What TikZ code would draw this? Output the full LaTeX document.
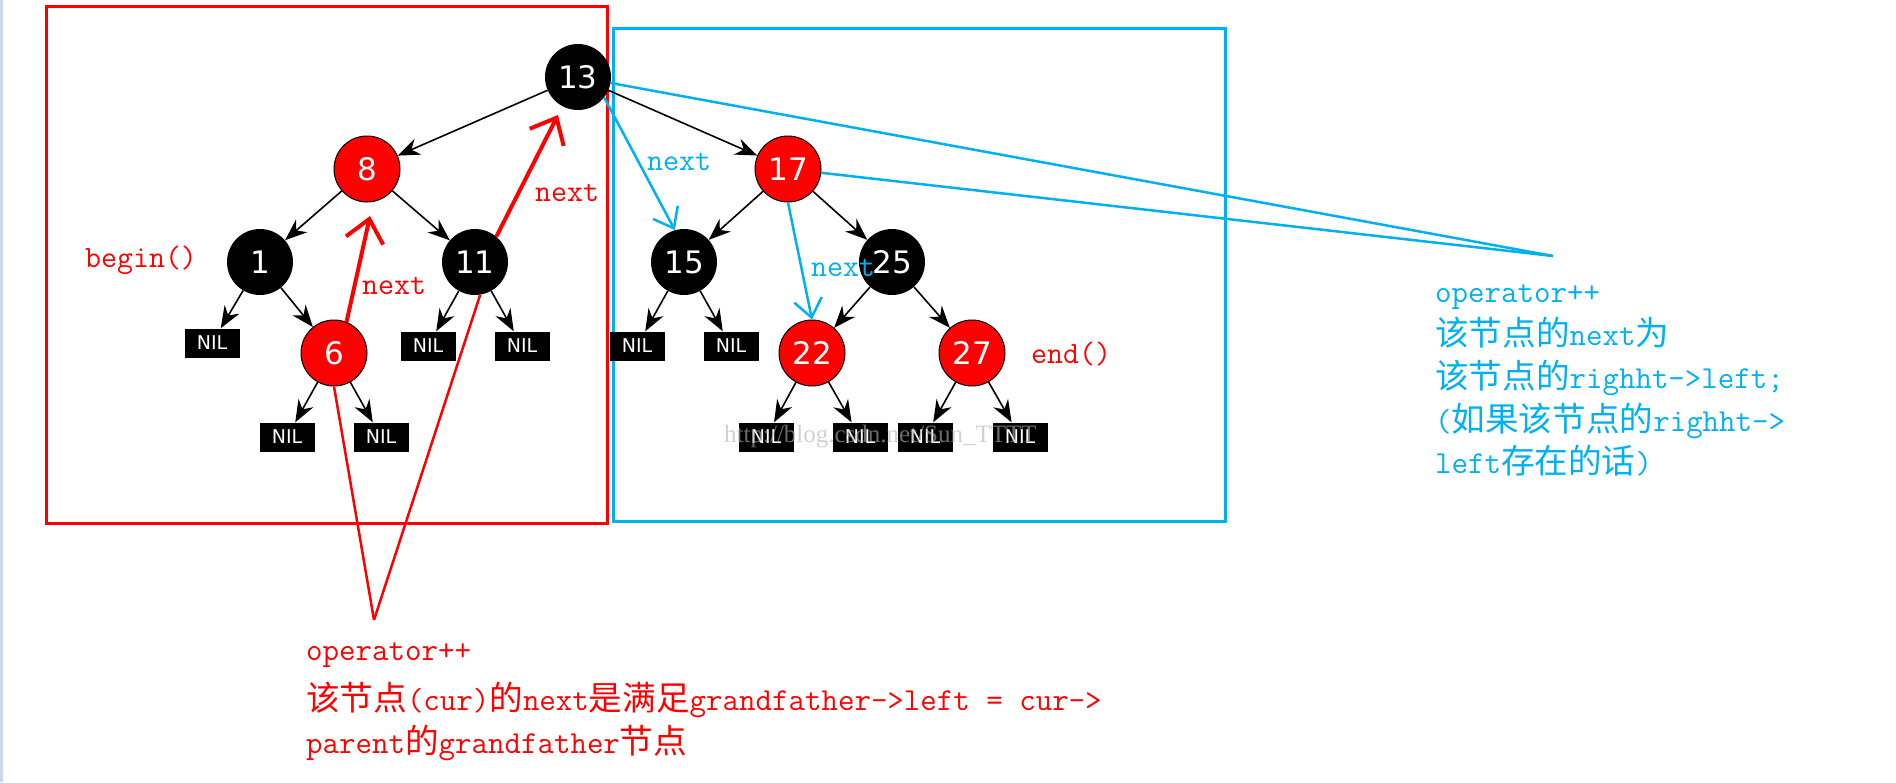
\documentclass[tikz,border=0pt]{standalone}
\usepackage{fontspec}
\newfontfamily\cjk[Scale=1.05]{Noto Sans CJK SC}
\newfontfamily\keyfont{DejaVu Sans}
\newfontfamily\wmfont{Liberation Serif}
\usetikzlibrary{arrows.meta}
\definecolor{rbred}{RGB}{255,0,0}
\definecolor{skyblue}{RGB}{0,176,240}
\definecolor{edgeblue}{RGB}{200,214,238}

\begin{document}
\begin{tikzpicture}[x=1pt, y=-1pt,
    blk/.style={circle, fill=black, text=white, minimum size=66pt, inner sep=0pt, font=\keyfont\fontsize{31}{31}\selectfont},
    rd/.style={blk, fill=rbred, draw=black, line width=1pt},
    nil/.style={rectangle, fill=black, text=white, minimum width=55pt, minimum height=29pt, inner sep=0pt, font=\keyfont\fontsize{19}{19}\selectfont},
    edge/.style={line width=1.6pt, -{Stealth[length=22pt,width=17pt]}},
    lbl/.style={anchor=base west, inner sep=0pt, font=\ttfamily\fontsize{31}{31}\selectfont},
    note/.style={anchor=base west, inner sep=0pt, font=\ttfamily\fontsize{32}{32}\selectfont},
    nextr/.style={rbred, line width=4pt, -{Straight Barb[length=22pt,width=38pt]}},
    nextb/.style={skyblue, line width=2.5pt, -{Straight Barb[length=18pt,width=28pt]}},
  ]
    \useasboundingbox (0,0) rectangle (1896,782);
    \fill[edgeblue] (0,0) rectangle (3,782);

    % frames
    \draw[rbred, line width=3pt] (46,6) rectangle (607,523);
    \draw[skyblue, line width=3pt] (613,28) rectangle (1225,521);

    % keys
    \node[blk] (n13) at (578,77) {13};
    \node[rd] (n8) at (367,169) {8};
    \node[rd] (n17) at (788,169) {17};
    \node[blk] (n1) at (260,262) {1};
    \node[blk] (n11) at (475,262) {11};
    \node[blk] (n15) at (684,262) {15};
    \node[blk] (n25) at (892,262) {25};
    \node[rd] (n6) at (334,353) {6};
    \node[rd] (n22) at (812,353) {22};
    \node[rd] (n27) at (972,353) {27};

    % leaves
    \node[nil] (nil1l) at (212,343) {NIL};
    \node[nil] (nil11l) at (428,346) {NIL};
    \node[nil] (nil11r) at (522,346) {NIL};
    \node[nil] (nil6l) at (287,437) {NIL};
    \node[nil] (nil6r) at (381,437) {NIL};
    \node[nil] (nil15l) at (637,346) {NIL};
    \node[nil] (nil15r) at (731,346) {NIL};
    \node[nil] (nil22l) at (766,437) {NIL};
    \node[nil] (nil22r) at (860,437) {NIL};
    \node[nil] (nil27l) at (925,437) {NIL};
    \node[nil] (nil27r) at (1020,437) {NIL};

    \draw[edge] (n13) -- (n8);
    \draw[edge] (n13) -- (n17);
    \draw[edge] (n8) -- (n1);
    \draw[edge] (n8) -- (n11);
    \draw[edge] (n1) -- (nil1l);
    \draw[edge] (n1) -- (n6);
    \draw[edge] (n6) -- (nil6l);
    \draw[edge] (n6) -- (nil6r);
    \draw[edge] (n11) -- (nil11l);
    \draw[edge] (n11) -- (nil11r);
    \draw[edge] (n17) -- (n15);
    \draw[edge] (n17) -- (n25);
    \draw[edge] (n15) -- (nil15l);
    \draw[edge] (n15) -- (nil15r);
    \draw[edge] (n25) -- (n22);
    \draw[edge] (n25) -- (n27);
    \draw[edge] (n22) -- (nil22l);
    \draw[edge] (n22) -- (nil22r);
    \draw[edge] (n27) -- (nil27l);
    \draw[edge] (n27) -- (nil27r);

    % next pointers
    \coordinate (c8) at (370,216);
    \coordinate (c13) at (558,115);
    \draw[nextr] (n6.68) -- (c8);
    \draw[nextr] (n11.50) -- (c13);
    \draw[nextb] (n13.-38) -- (n15.106);
    \draw[nextb] (n17.south) -- (n22.north);

    % callout lines
    \coordinate (tipR) at (374,620);
    \coordinate (tipB) at (1553,256);
    \draw[rbred, line width=2.5pt] (n6.south) -- (tipR);
    \draw[rbred, line width=2.5pt] (n11.-81) -- (tipR);
    \draw[skyblue, line width=2.5pt] (n13) -- (tipB);
    \draw[skyblue, line width=2.5pt] (n17) -- (tipB);

    \node[lbl, text=rbred] (lbegin) at (85,267) {begin()};
    \node[lbl, text=rbred] (lend) at (1031,363) {end()};
    \node[lbl, text=rbred] (nxt1) at (535,201) {next};
    \node[lbl, text=rbred] (nxt2) at (362,294) {next};
    \node[lbl, text=skyblue] (nxt3) at (647,170) {next};
    \node[lbl, text=skyblue] (nxt4) at (811,276) {next};

    \node[note, text=rbred] (rl1) at (306,660) {operator++};
    \node[note, text=rbred] (rl2) at (306,710) {{\cjk 该节点}(cur){\cjk 的}next{\cjk 是满足}grandfather->left = cur->};
    \node[note, text=rbred] (rl3) at (306,753) {parent{\cjk 的}grandfather{\cjk 节点}};

    \node[note, text=skyblue] (bl1) at (1435,302) {operator++};
    \node[note, text=skyblue] (bl2) at (1435,345) {{\cjk 该节点的}next{\cjk 为}};
    \node[note, text=skyblue] (bl3) at (1435,388) {{\cjk 该节点的}righht->left;};
    \node[note, text=skyblue] (bl4) at (1435,431) {({\cjk 如果该节点的}righht->};
    \node[note, text=skyblue] (bl5) at (1435,473) {left{\cjk 存在的话})};

    \node[anchor=base west, inner sep=0pt, text=gray!60, opacity=0.6, font=\wmfont\fontsize{25}{25}\selectfont] (wm) at (724,442) {http://blog.csdn.net/Sun\_TTTT};
  \end{tikzpicture}
\end{document}
